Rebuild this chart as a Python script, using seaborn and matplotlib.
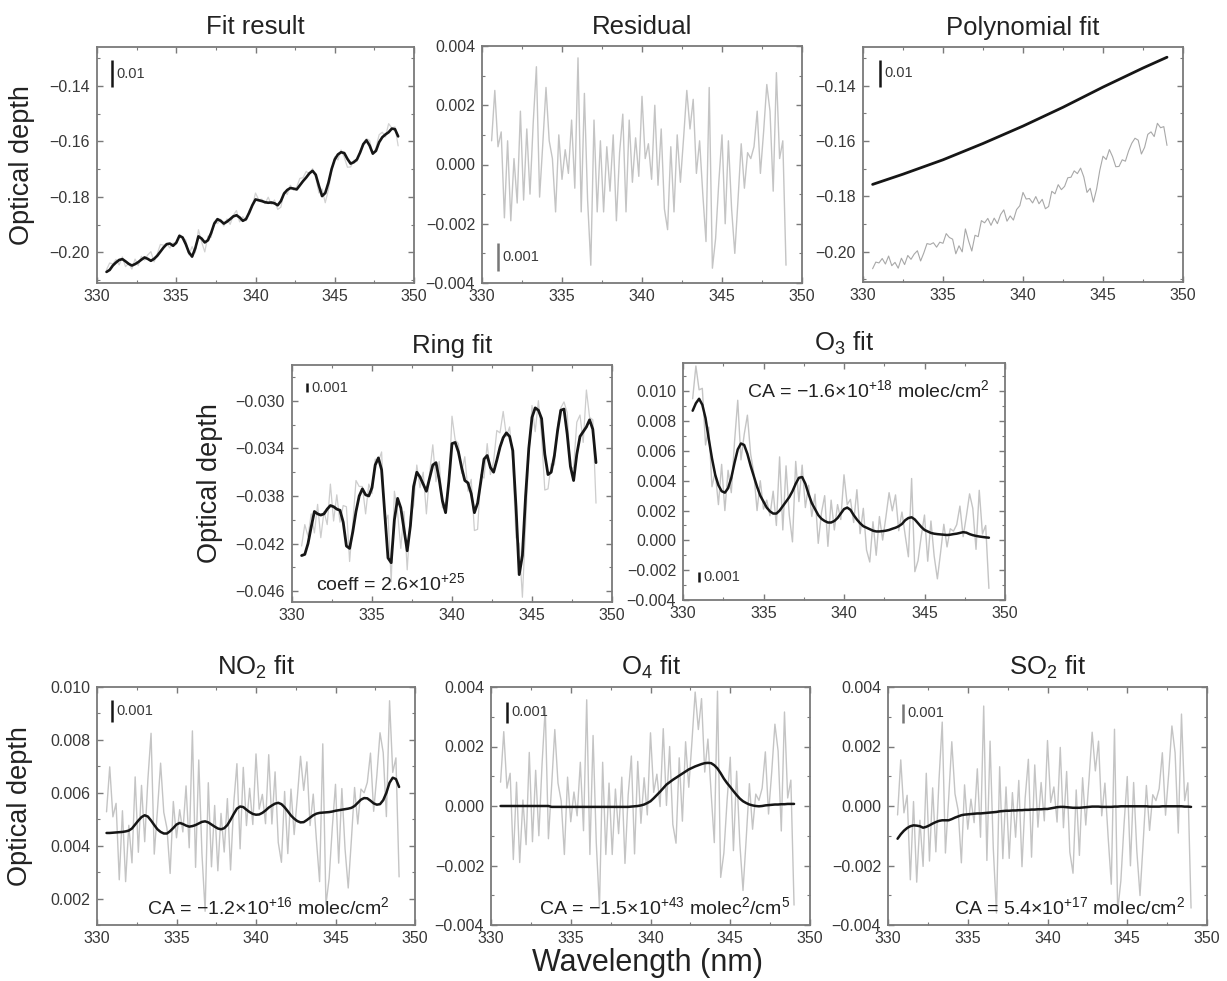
import numpy as np
import matplotlib
matplotlib.use("Agg")
import matplotlib.pyplot as plt
import seaborn as sns
from matplotlib.ticker import MultipleLocator, FuncFormatter

# wavelength grid (nm), 0.2 nm sampling
wavelength = np.linspace(330.6, 349.0, 93)

# residual of the fit (x 1e-3)
residual = np.array([
    0.8, 2.5, 0.6, 1.1, -1.8, 0.8, -1.9, 0.2, -1.3, 1.8,
    -1.2, 1.2, -1.0, 1.4, 3.3, -1.1, 0.7, 2.6, 0.8, 0.2,
    -1.6, 1.0, -0.5, 0.5, -0.3, 1.5, -0.8, 3.6, -1.6, 2.4,
    -1.2, -3.4, 1.5, -1.6, 0.8, -1.6, 0.6, -0.9, 1.0, -1.9,
    0.4, 1.7, -1.6, 1.5, -0.6, 0.9, -0.4, 2.3, 0.2, 0.7,
    -0.5, 2.0, -0.7, 1.2, -1.5, -2.2, 0.6, -1.6, 1.0, -0.6,
    0.9, 2.5, 1.2, 2.2, -0.3, 0.8, -1.0, -2.6, 2.6, -3.5,
    -2.5, -0.6, 1.0, -2.0, 0.8, -1.5, -3.0, -1.2, 0.7, -0.8,
    0.4, 0.2, 0.6, 1.8, -0.3, 1.1, 2.7, 1.8, -0.9, 3.1,
    0.2, 0.8, -3.4]) * 1e-3

# total fitted optical depth (x 1e-3)
total_fit = np.array([
    -207.0, -206.3, -204.7, -203.6, -202.7, -202.4, -203.2, -204.1, -204.7, -204.2,
    -203.5, -202.6, -201.8, -202.3, -203.0, -202.3, -201.2, -199.7, -198.2, -197.0,
    -196.8, -197.6, -196.5, -194.0, -194.6, -197.0, -200.0, -201.5, -198.5, -194.2,
    -195.0, -196.4, -195.6, -193.0, -189.6, -188.0, -188.6, -189.6, -188.9, -188.0,
    -187.0, -186.6, -187.4, -188.6, -188.0, -185.7, -183.0, -180.9, -181.2, -181.5,
    -181.9, -182.1, -182.0, -182.3, -183.0, -181.5, -178.8, -177.5, -176.8, -177.0,
    -177.3, -175.8, -174.3, -173.0, -171.5, -170.6, -172.0, -176.0, -179.7, -178.6,
    -174.9, -170.0, -166.5, -164.7, -163.9, -164.2, -166.3, -168.0, -167.5, -166.5,
    -164.0, -161.0, -159.6, -161.5, -164.4, -163.4, -160.3, -158.5, -157.5, -156.7,
    -155.4, -155.6, -158.2]) * 1e-3

# polynomial part
poly_wavelength = [330.6, 332.5, 335.0, 337.5, 340.0, 342.5, 345.0, 347.5, 349.0]
poly_fit = [-0.1757, -0.1720, -0.1668, -0.1609, -0.1546, -0.1478, -0.1405, -0.1336, -0.1297]

# ring fit (x 1e-3)
ring_fit = np.array([
    -43.0, -42.9, -42.0, -40.6, -39.3, -39.5, -39.6, -39.5, -39.1, -38.8,
    -38.9, -39.1, -39.2, -40.2, -42.2, -42.4, -41.0, -39.3, -38.0, -37.4,
    -37.9, -38.0, -37.3, -35.4, -34.8, -35.8, -39.5, -43.2, -43.6, -40.0,
    -38.2, -39.0, -40.8, -42.6, -40.5, -37.2, -36.0, -36.4, -37.0, -37.6,
    -36.5, -35.4, -35.2, -36.6, -38.4, -39.4, -36.8, -33.6, -33.5, -34.3,
    -35.6, -36.7, -36.9, -37.8, -39.4, -38.6, -36.8, -34.9, -34.6, -35.6,
    -36.0, -35.0, -33.9, -33.1, -32.7, -33.0, -34.2, -38.9, -44.6, -43.0,
    -38.0, -34.0, -31.4, -30.6, -30.8, -31.5, -34.5, -36.2, -36.0, -34.6,
    -32.5, -30.8, -30.7, -32.8, -35.5, -36.7, -34.5, -33.0, -32.6, -32.2,
    -31.6, -32.4, -35.2]) * 1e-3

# O3 fit (x 1e-3)
o3_fit = np.array([
    8.7, 9.2, 9.5, 9.1, 8.2, 6.8, 5.5, 4.4, 3.7, 3.3,
    3.2, 3.5, 4.2, 5.2, 6.1, 6.5, 6.4, 5.8, 5.0, 4.3,
    3.6, 3.0, 2.6, 2.2, 1.95, 1.8, 1.8, 2.0, 2.3, 2.6,
    2.9, 3.3, 3.8, 4.2, 4.25, 3.8, 3.1, 2.5, 2.1, 1.7,
    1.45, 1.3, 1.2, 1.2, 1.3, 1.5, 1.8, 2.1, 2.2, 2.05,
    1.7, 1.4, 1.15, 0.95, 0.85, 0.75, 0.65, 0.6, 0.6, 0.62,
    0.65, 0.7, 0.78, 0.85, 0.95, 1.1, 1.35, 1.5, 1.55, 1.4,
    1.15, 0.9, 0.7, 0.6, 0.5, 0.45, 0.42, 0.4, 0.38, 0.36,
    0.38, 0.42, 0.45, 0.5, 0.55, 0.52, 0.42, 0.35, 0.3, 0.26,
    0.23, 0.2, 0.18]) * 1e-3

# NO2 fit (x 1e-3)
no2_fit = np.array([
    4.48, 4.48, 4.49, 4.50, 4.51, 4.52, 4.54, 4.57, 4.65, 4.80,
    4.95, 5.08, 5.15, 5.10, 4.95, 4.78, 4.62, 4.52, 4.46, 4.46,
    4.55, 4.67, 4.80, 4.86, 4.82, 4.76, 4.72, 4.74, 4.78, 4.84,
    4.90, 4.92, 4.88, 4.80, 4.72, 4.65, 4.62, 4.66, 4.78, 4.98,
    5.20, 5.40, 5.48, 5.46, 5.36, 5.27, 5.20, 5.17, 5.18, 5.24,
    5.33, 5.44, 5.52, 5.59, 5.62, 5.57, 5.45, 5.30, 5.14, 5.02,
    4.93, 4.88, 4.89, 4.97, 5.06, 5.15, 5.21, 5.24, 5.25, 5.26,
    5.27, 5.29, 5.32, 5.34, 5.36, 5.38, 5.40, 5.43, 5.50, 5.62,
    5.74, 5.80, 5.79, 5.70, 5.60, 5.55, 5.57, 5.72, 6.00, 6.38,
    6.57, 6.52, 6.22]) * 1e-3

# O4 fit (x 1e-3)
o4_fit = np.array([
    0.0, 0.0, 0.0, 0.0, 0.0, 0.0, 0.0, 0.0, 0.0, 0.0,
    0.0, 0.0, 0.0, 0.0, 0.0, 0.0, -0.03, -0.03, -0.03, -0.03,
    -0.03, -0.03, -0.03, -0.03, -0.03, -0.03, -0.03, -0.03, -0.03, -0.03,
    -0.03, -0.03, -0.03, -0.03, -0.03, -0.03, -0.03, -0.03, -0.03, -0.03,
    -0.03, -0.02, -0.01, 0.0, 0.02, 0.05, 0.10, 0.16, 0.26, 0.37,
    0.48, 0.60, 0.72, 0.80, 0.88, 0.95, 1.02, 1.09, 1.16, 1.23,
    1.28, 1.33, 1.37, 1.41, 1.44, 1.45, 1.44, 1.37, 1.26, 1.10,
    0.92, 0.77, 0.64, 0.50, 0.37, 0.25, 0.16, 0.10, 0.05, 0.02,
    0.0, -0.01, 0.0, 0.02, 0.03, 0.04, 0.05, 0.05, 0.06, 0.06,
    0.07, 0.07, 0.07]) * 1e-3

# SO2 fit (x 1e-3)
so2_fit = np.array([
    -1.10, -0.95, -0.83, -0.74, -0.68, -0.65, -0.66, -0.68, -0.73, -0.70,
    -0.65, -0.59, -0.54, -0.50, -0.48, -0.48, -0.48, -0.44, -0.39, -0.35,
    -0.31, -0.29, -0.28, -0.27, -0.26, -0.25, -0.25, -0.24, -0.23, -0.22,
    -0.21, -0.20, -0.18, -0.17, -0.16, -0.16, -0.15, -0.15, -0.14, -0.14,
    -0.13, -0.13, -0.12, -0.12, -0.11, -0.11, -0.10, -0.10, -0.08, -0.06,
    -0.04, -0.03, -0.03, -0.04, -0.05, -0.06, -0.06, -0.06, -0.05, -0.04,
    -0.03, -0.02, -0.02, -0.02, -0.03, -0.03, -0.03, -0.03, -0.02, -0.02,
    -0.01, -0.01, -0.01, -0.01, -0.01, -0.01, -0.01, -0.01, -0.01, -0.02,
    -0.02, -0.02, -0.02, -0.01, -0.01, -0.01, -0.01, -0.01, -0.01, -0.01,
    -0.02, -0.02, -0.03]) * 1e-3

for arr in (residual, total_fit, ring_fit, o3_fit, no2_fit, o4_fit, so2_fit):
    assert len(arr) == len(wavelength)

measured = total_fit + residual

ca_o3 = "CA = \u22121.6\u00d710$^{+18}$ molec/cm$^2$"
ca_no2 = "CA = \u22121.2\u00d710$^{+16}$ molec/cm$^2$"
ca_o4 = "CA = \u22121.5\u00d710$^{+43}$ molec$^2$/cm$^5$"
ca_so2 = "CA = 5.4\u00d710$^{+17}$ molec/cm$^2$"
ring_coeff = "coeff = 2.6\u00d710$^{+25}$"

sns.set_theme(style="white")
plt.rcParams["font.family"] = ["Liberation Sans", "DejaVu Sans"]
plt.rcParams["mathtext.fontset"] = "custom"
plt.rcParams["mathtext.rm"] = "Liberation Sans"
plt.rcParams["mathtext.it"] = "Liberation Sans:italic"
plt.rcParams["mathtext.bf"] = "Liberation Sans:bold"

GREY = "#c4c4c4"
BLACK = "#161616"
TEXT = "#383838"
EDGE = "#7a7a7a"

W, H = 1227, 981
fig = plt.figure(figsize=(W / 100, H / 100), dpi=100)
fig.patch.set_facecolor("white")


def make_axes(left, top, right, bottom):
    return fig.add_axes([left / W, 1 - bottom / H, (right - left) / W, (bottom - top) / H])


def minus_fmt(decimals):
    def f(v, pos):
        s = f"{v:.{decimals}f}"
        if float(s) == 0:
            s = f"{0:.{decimals}f}"
        return s.replace("-", "\u2212")
    return FuncFormatter(f)


def style_axes(ax, title, yticks, ylim, decimals, yminor):
    ax.set_xlim(330, 350)
    ax.set_xticks([330, 335, 340, 345, 350])
    ax.xaxis.set_minor_locator(MultipleLocator(2.5))
    ax.set_ylim(*ylim)
    ax.set_yticks(yticks)
    ax.yaxis.set_minor_locator(MultipleLocator(yminor))
    ax.yaxis.set_major_formatter(minus_fmt(decimals))
    ax.tick_params(which="both", direction="in", bottom=True, left=True, top=True, right=True,
                   color=EDGE, labelsize=11.5, labelcolor=TEXT)
    ax.tick_params(which="major", length=4, width=1)
    ax.tick_params(which="minor", length=2.5, width=0.8)
    ax.tick_params(axis="x", pad=4)
    ax.tick_params(axis="y", pad=5)
    for s in ax.spines.values():
        s.set_color(EDGE)
        s.set_linewidth(1.3)
    ax.set_xlabel("")
    ax.set_ylabel("")
    ax.set_title(title, fontsize=18.5, color="#222222", pad=9)


def scale_bar(ax, x, y0, y1, label, color=BLACK):
    ax.plot([x, x], [y0, y1], transform=ax.transAxes, color=color, lw=1.8,
            solid_capstyle="butt")
    ax.text(x + 0.014, (y0 + y1) / 2, label, transform=ax.transAxes,
            fontsize=10.5, color=TEXT, va="center", ha="left")


def y_label(ax, xpos):
    ax.set_ylabel("Optical depth", fontsize=19.5, color="#222222")
    ax.yaxis.set_label_coords(xpos, 0.5)


def line(ax, y, color, lw, x=wavelength):
    sns.lineplot(x=x, y=y, ax=ax, color=color, linewidth=lw, estimator=None, sort=False)


top_yticks = [-0.20, -0.18, -0.16, -0.14]
top_ylim = (-0.211, -0.126)
res_yticks = [-0.004, -0.002, 0.0, 0.002, 0.004]

# Fit result
ax = make_axes(97, 47, 414, 283)
line(ax, measured, "#d2d2d2", 0.9)
line(ax, total_fit, BLACK, 1.9)
style_axes(ax, "Fit result", top_yticks, top_ylim, 2, 0.01)
scale_bar(ax, 0.047, 0.83, 0.945, "0.01")
y_label(ax, -0.195)

# Residual
ax = make_axes(482, 46, 802, 283)
line(ax, residual, GREY, 1.0)
style_axes(ax, "Residual", res_yticks, (-0.004, 0.004), 3, 0.001)
scale_bar(ax, 0.05, 0.05, 0.169, "0.001", color="#777777")

# Polynomial fit
ax = make_axes(863, 47, 1183, 282)
line(ax, measured, "#a8a8a8", 0.8)
line(ax, poly_fit, BLACK, 2.0, x=poly_wavelength)
style_axes(ax, "Polynomial fit", top_yticks, top_ylim, 2, 0.01)
scale_bar(ax, 0.053, 0.83, 0.945, "0.01")

# Ring fit
ax = make_axes(292, 365, 612, 602)
line(ax, ring_fit + residual, "#cdcdcd", 0.9)
line(ax, ring_fit, BLACK, 2.0)
style_axes(ax, "Ring fit", [-0.046, -0.042, -0.038, -0.034, -0.030],
           (-0.0469, -0.0270), 3, 0.002)
scale_bar(ax, 0.047, 0.886, 0.924, "0.001")
ax.text(0.075, 0.08, ring_coeff, transform=ax.transAxes, fontsize=14,
        color="#222222", ha="left", va="center")
y_label(ax, -0.216)

# O3 fit
ax = make_axes(683, 363, 1005, 600)
line(ax, o3_fit + residual, GREY, 1.0)
line(ax, o3_fit, BLACK, 1.8)
style_axes(ax, "O$_3$ fit", [-0.004, -0.002, 0.0, 0.002, 0.004, 0.006, 0.008, 0.010],
           (-0.004, 0.0119), 3, 0.001)
scale_bar(ax, 0.05, 0.076, 0.118, "0.001")
ax.text(0.953, 0.886, ca_o3, transform=ax.transAxes, fontsize=14,
        color="#222222", ha="right", va="center")

# NO2 fit
ax = make_axes(97, 687, 415, 925)
line(ax, no2_fit + residual, GREY, 1.0)
line(ax, no2_fit, BLACK, 1.8)
style_axes(ax, "NO$_2$ fit", [0.002, 0.004, 0.006, 0.008, 0.010], (0.001, 0.010), 3, 0.001)
scale_bar(ax, 0.047, 0.853, 0.945, "0.001")
ax.text(0.921, 0.076, ca_no2, transform=ax.transAxes, fontsize=14,
        color="#222222", ha="right", va="center")
y_label(ax, -0.201)

# O4 fit
ax = make_axes(491, 687, 810, 925)
line(ax, o4_fit + residual, GREY, 1.0)
line(ax, o4_fit, BLACK, 1.8)
style_axes(ax, "O$_4$ fit", res_yticks, (-0.004, 0.004), 3, 0.001)
scale_bar(ax, 0.05, 0.849, 0.937, "0.001")
ax.text(0.937, 0.076, ca_o4, transform=ax.transAxes, fontsize=14,
        color="#222222", ha="right", va="center")

# SO2 fit
ax = make_axes(888, 687, 1207, 925)
line(ax, so2_fit + residual, GREY, 1.0)
line(ax, so2_fit, BLACK, 1.8)
style_axes(ax, "SO$_2$ fit", res_yticks, (-0.004, 0.004), 3, 0.001)
scale_bar(ax, 0.047, 0.849, 0.929, "0.001", color="#777777")
ax.text(0.931, 0.076, ca_so2, transform=ax.transAxes, fontsize=14,
        color="#222222", ha="right", va="center")

fig.text(648 / W, 1 - 963 / H, "Wavelength (nm)", ha="center", va="center",
         fontsize=22, color="#222222")

fig.savefig("out.png", dpi=100)
